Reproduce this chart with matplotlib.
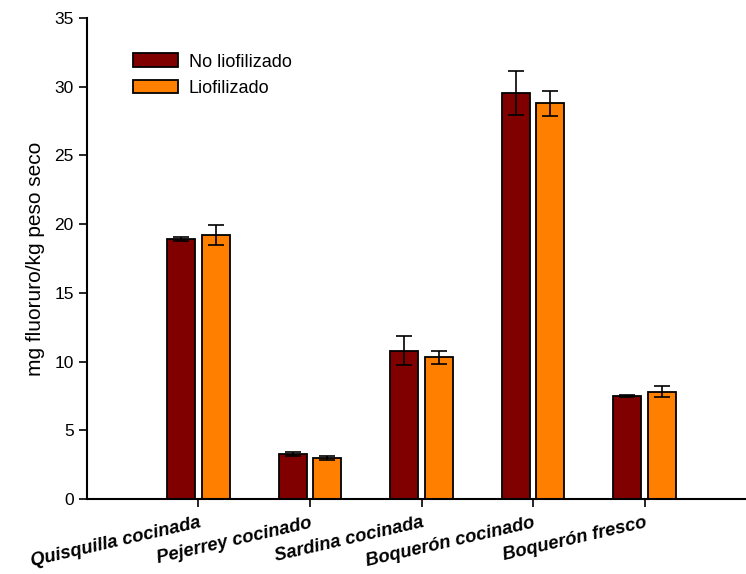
import numpy as np
import matplotlib.pyplot as plt

plt.rcParams['font.family'] = ['Liberation Sans', 'DejaVu Sans']

categories = ['Quisquilla cocinada', 'Pejerrey cocinado', 'Sardina cocinada',
              'Boquerón cocinado', 'Boquerón fresco']
no_liof = [18.9, 3.3, 10.8, 29.55, 7.5]
no_liof_err = [0.15, 0.15, 1.05, 1.6, 0.05]
liof = [19.2, 3.0, 10.3, 28.8, 7.8]
liof_err = [0.7, 0.15, 0.5, 0.9, 0.4]

fig = plt.figure(figsize=(7.46, 5.74), dpi=100)
ax = fig.add_axes([0.1166, 0.1307, 0.8834, 0.838])

x = np.arange(1, len(categories) + 1)
w = 0.25
off = 0.155
ax.bar(x - off, no_liof, w, color='#800000', edgecolor='black', linewidth=1.3,
       label='No liofilizado', zorder=2)
ax.bar(x + off, liof, w, color='#ff8000', edgecolor='black', linewidth=1.3,
       label='Liofilizado', zorder=2)
ax.errorbar(x - off, no_liof, yerr=no_liof_err, fmt='none', ecolor='black',
            elinewidth=1.2, capsize=5.5, capthick=1.2, zorder=3)
ax.errorbar(x + off, liof, yerr=liof_err, fmt='none', ecolor='black',
            elinewidth=1.2, capsize=5.5, capthick=1.2, zorder=3)

ax.set_xlim(0, 5.91)
ax.set_ylim(0, 35)
ax.set_yticks(range(0, 36, 5))
ax.set_xticks(x)
ax.set_xticklabels(categories, rotation=13, ha='right', rotation_mode='anchor',
                   fontweight='bold', fontstyle='italic', fontsize=13.2)
ax.tick_params(axis='y', labelsize=12.5, length=6, width=1.2, direction='out')
ax.tick_params(axis='x', length=6, width=1.2, direction='out', pad=5)
ax.set_ylabel('mg fluoruro/kg peso seco', fontsize=15, labelpad=7)

for s in ['top', 'right']:
    ax.spines[s].set_visible(False)
for s in ['left', 'bottom']:
    ax.spines[s].set_linewidth(1.5)

ax.legend(loc='upper left', bbox_to_anchor=(0.045, 0.96), frameon=False,
          fontsize=13, handlelength=2.5, handleheight=0.8, labelspacing=0.5,
          handletextpad=0.6)

fig.savefig('out.png', dpi=100)
